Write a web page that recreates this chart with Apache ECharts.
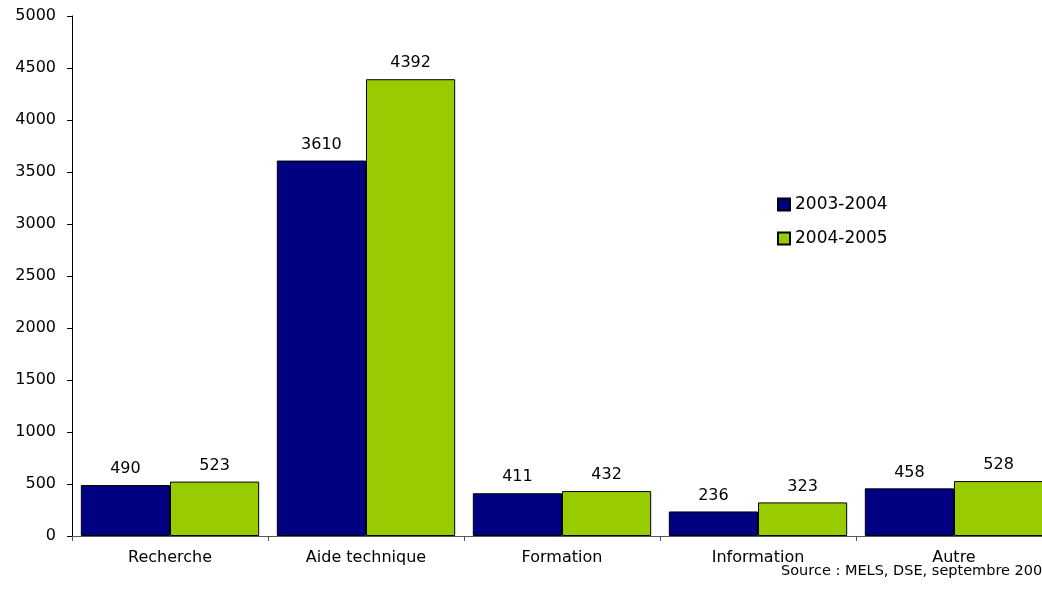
<!DOCTYPE html>
<html>
<head>
<meta charset="utf-8">
<script src="https://cdn.jsdelivr.net/npm/echarts@6/dist/echarts.min.js"></script>
<style>
  html, body { margin: 0; padding: 0; background: #fff; }
  #chart { width: 1042px; height: 602px; }
</style>
</head>
<body>
<div id="chart"></div>
<script>
// Demandes par type de service, deux années scolaires
const categories = ['Recherche', 'Aide technique', 'Formation', 'Information', 'Autre'];
const seriesNames = ['2003-2004', '2004-2005'];
const values2003 = [490, 3610, 411, 236, 458];
const values2004 = [523, 4392, 432, 323, 528];
const seriesColors = ['#000080', '#99CC00'];
const sourceNote = 'Source : MELS, DSE, septembre 2006';

const FONT = 'DejaVu Sans';

const chart = echarts.init(document.getElementById('chart'));

function makeSeries(name, data, color) {
  return {
    name: name,
    type: 'bar',
    data: data,
    barGap: '0%',
    barCategoryGap: '9%',
    itemStyle: { color: color, borderColor: '#000', borderWidth: 1 },
    label: {
      show: true,
      position: 'top',
      distance: 8,
      color: '#000',
      fontFamily: FONT,
      fontSize: 16
    },
    emphasis: { disabled: true }
  };
}

chart.setOption({
  animation: false,
  backgroundColor: '#fff',
  // the plot runs past the right edge of the page, as in the printed report
  grid: { left: 72, top: 16, bottom: 66, right: -10, outerBoundsMode: 'none', containLabel: false },
  legend: {
    orient: 'vertical',
    left: 777,
    top: 196,
    padding: 0,
    itemWidth: 12,
    itemHeight: 12,
    itemGap: 17,
    icon: 'rect',
    selectedMode: false,
    textStyle: { color: '#000', fontFamily: FONT, fontSize: 17, lineHeight: 16 },
    data: seriesNames
  },
  xAxis: {
    type: 'category',
    data: categories,
    axisLine: { lineStyle: { color: '#555', width: 1 } },
    axisTick: { show: true, length: 5, alignWithLabel: false, lineStyle: { color: '#555' } },
    axisLabel: { color: '#000', fontFamily: FONT, fontSize: 16, margin: 14, interval: 0 },
    splitLine: { show: false }
  },
  yAxis: {
    type: 'value',
    min: 0,
    max: 5000,
    interval: 500,
    axisLine: { show: true, lineStyle: { color: '#000', width: 1 } },
    axisTick: { show: true, length: 5, lineStyle: { color: '#000' } },
    axisLabel: { color: '#000', fontFamily: FONT, fontSize: 16, margin: 16, formatter: v => String(v) },
    splitLine: { show: false }
  },
  graphic: [{
    type: 'text',
    left: 781,
    top: 564,
    style: { text: sourceNote, fill: '#000', font: '14.5px "DejaVu Sans"' }
  }],
  series: [
    makeSeries(seriesNames[0], values2003, seriesColors[0]),
    makeSeries(seriesNames[1], values2004, seriesColors[1])
  ]
});
</script>
</body>
</html>
